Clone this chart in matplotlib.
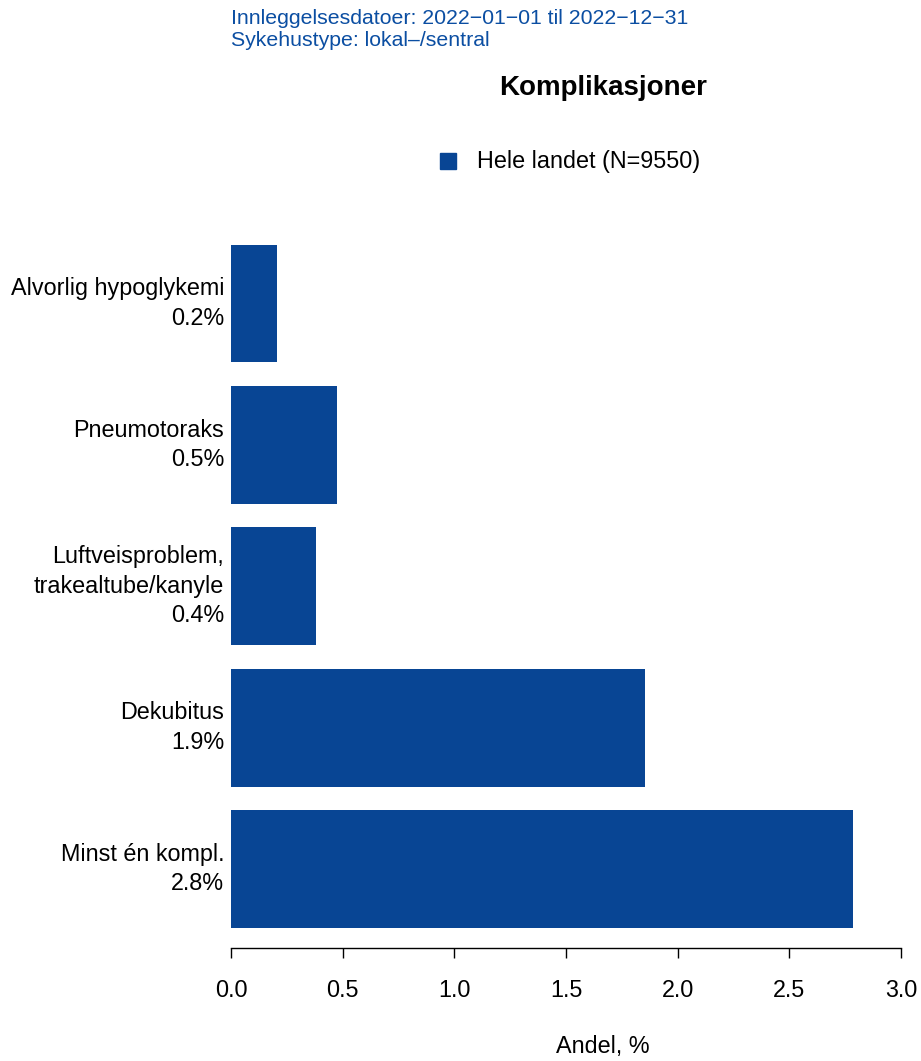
import matplotlib
matplotlib.use("Agg")
import matplotlib.pyplot as plt
from matplotlib.patches import Rectangle

plt.rcParams['font.family'] = ['Liberation Sans', 'DejaVu Sans']

categories = ["Minst én kompl.", "Dekubitus", "Luftveisproblem,\ntrakealtube/kanyle",
              "Pneumotoraks", "Alvorlig hypoglykemi"]
values = [2.785, 1.854, 0.381, 0.475, 0.206]
pct_labels = ["2.8%", "1.9%", "0.4%", "0.5%", "0.2%"]
xticks = [0.0, 0.5, 1.0, 1.5, 2.0, 2.5, 3.0]
title = "Komplikasjoner"
legend_label = "Hele landet (N=9550)"
info_lines = ["Innleggelsesdatoer: 2022\u221201\u221201 til 2022\u221212\u221231",
              "Sykehustype: lokal\u2013/sentral"]
xlabel = "Andel, %"

bar_color = "#084594"
info_color = "#0b4ea2"
FS = 16.8
W, H = 921, 1061
fig = plt.figure(figsize=(W / 100, H / 100), dpi=100)
ax = fig.add_axes([231 / W, 1 - 948 / H, (901 - 231) / W, (948 - 218.7) / H])

ypos = list(range(len(categories)))
ax.barh(ypos, values, height=0.834, color=bar_color)
ax.set_xlim(0, 3.0)
ax.set_ylim(-0.559, 4.6)
ax.set_yticks(ypos)
ax.set_yticklabels([f"{c}\n{p}" for c, p in zip(categories, pct_labels)],
                   fontsize=FS, linespacing=1.35, va='center')
ax.tick_params(axis='y', length=0, pad=5)
ax.set_xticks(xticks)
ax.set_xticklabels([f"{t:.1f}" for t in xticks], fontsize=FS)
ax.tick_params(axis='x', length=7.2, width=1, pad=15, direction='out')
for s in ['top', 'right', 'left']:
    ax.spines[s].set_visible(False)
ax.spines['bottom'].set_linewidth(1)

fig.text(603 / W, 1 - 1046 / H, xlabel, fontsize=FS, ha='center', va='center')
fig.text(603 / W, 1 - 88 / H, title, fontsize=20, fontweight='bold', ha='center', va='center')
for i, line in enumerate(info_lines):
    fig.text(231 / W, 1 - (18 + 23 * i) / H, line, fontsize=15.3, color=info_color,
             ha='left', va='center')

fig.patches.append(Rectangle((440 / W, 1 - 169 / H), 16 / W, 16 / H,
                             transform=fig.transFigure, color=bar_color))
fig.text(477 / W, 1 - 161 / H, legend_label, fontsize=FS, ha='left', va='center')

fig.savefig("out.png", dpi=100)
